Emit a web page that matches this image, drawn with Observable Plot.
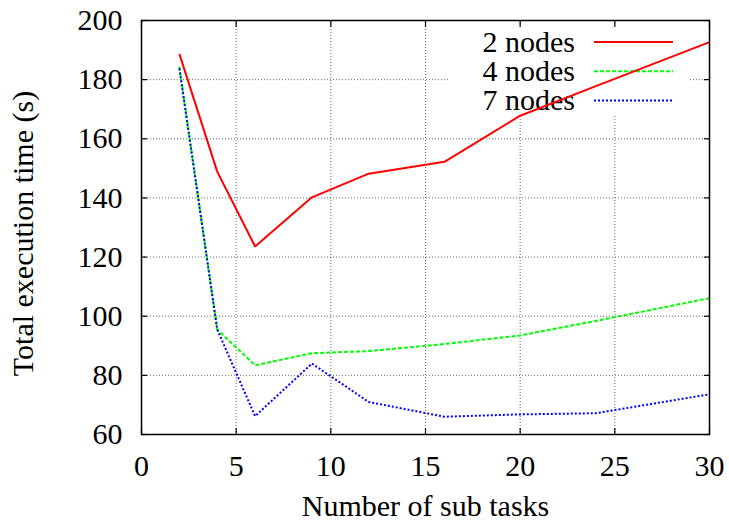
<!DOCTYPE html>
<html><head><meta charset="utf-8">
<script src="https://cdn.jsdelivr.net/npm/d3@7"></script>
<script src="https://cdn.jsdelivr.net/npm/@observablehq/plot@0.6"></script>
<style>body{margin:0;background:#fff} svg text{font-family:"Liberation Serif","Times New Roman",serif !important;}</style>
</head><body><div id="chart"></div>
<script>
const subTasks = [2, 4, 6, 9, 12, 16, 20, 24, 30];
const nodes2 = [188.7, 148.9, 123.6, 140.2, 148.2, 152.2, 167.8, 177.8, 192.7];
const nodes4 = [184.4, 95.5, 83.4, 87.5, 88.2, 90.6, 93.5, 98.4, 106.1];
const nodes7 = [183.8, 95.5, 66.2, 84.0, 71.0, 66.0, 66.8, 67.2, 73.6];
const seriesNames = ["2 nodes", "4 nodes", "7 nodes"];
const seriesValues = [nodes2, nodes4, nodes7];
const seriesColors = ["#ff0000", "#00ff00", "#0000ff"];
const seriesDash = [null, "4,2", "2,2"];
const xTicks = [0, 5, 10, 15, 20, 25, 30];
const yTicks = [60, 80, 100, 120, 140, 160, 180, 200];
const xLabel = "Number of sub tasks";
const yLabel = "Total execution time (s)";

const FONT = 30;
const FAMILY = "Liberation Serif";

const series = seriesNames.map((name, i) => ({
  name, color: seriesColors[i], dash: seriesDash[i],
  rows: subTasks.map((x, j) => ({x, y: seriesValues[i][j]}))
}));

function legend(index, scales, values, dimensions) {
  const right = dimensions.width - dimensions.marginRight;
  const top = dimensions.marginTop;
  const g = d3.create("svg:g");
  g.append("rect").attr("x", right - 261).attr("y", top + 4)
    .attr("width", 242).attr("height", 92).attr("fill", "white");
  series.forEach((s, i) => {
    const y = top + 22 + i * 29.3;
    g.append("text").attr("x", right - 134).attr("y", y).attr("dy", "0.32em")
      .attr("text-anchor", "end").attr("font-size", FONT).attr("font-family", FAMILY)
      .attr("fill", "black").text(s.name);
    g.append("line").attr("x1", right - 115).attr("x2", right - 36)
      .attr("y1", y).attr("y2", y).attr("stroke", s.color).attr("stroke-width", 2)
      .attr("stroke-linecap", "butt").attr("stroke-dasharray", s.dash);
  });
  return g.node();
}

const gridStyle = {stroke: "#000", strokeOpacity: 0.6, strokeDasharray: "1,2", strokeWidth: 1};

const chart = Plot.plot({
  width: 729, height: 521,
  marginLeft: 141, marginRight: 20, marginTop: 20, marginBottom: 87,
  style: "font-family: 'Liberation Serif', serif; font-size: 30px; background: white; color: black;",
  x: {domain: [0, 30]},
  y: {domain: [60, 200]},
  marks: [
    Plot.gridX(xTicks, gridStyle),
    Plot.gridY(yTicks, gridStyle),
    legend,
    ...series.map(s => Plot.line(s.rows, {x: "x", y: "y", stroke: s.color, strokeWidth: 2,
      strokeDasharray: s.dash, strokeLinecap: "butt", strokeLinejoin: "miter"})),
    Plot.axisX({ticks: xTicks, tickSize: 0, tickPadding: 20, label: null, fontSize: FONT, fontFamily: FAMILY}),
    Plot.axisY({ticks: yTicks, tickSize: 0, tickPadding: 19, label: null, fontSize: FONT, fontFamily: FAMILY}),
    Plot.axisX({ticks: xTicks, anchor: "bottom", tickSize: 6, dy: -6, fill: "none", label: null, strokeWidth: 1.2}),
    Plot.axisX({ticks: xTicks, anchor: "top", tickSize: 6, dy: 6, fill: "none", label: null, strokeWidth: 1.2}),
    Plot.axisY({ticks: yTicks, anchor: "left", tickSize: 6, dx: 6, fill: "none", label: null, strokeWidth: 1.2}),
    Plot.axisY({ticks: yTicks, anchor: "right", tickSize: 6, dx: -6, fill: "none", label: null, strokeWidth: 1.2}),
    Plot.frame({stroke: "black", strokeWidth: 1.5}),
    Plot.text([xLabel], {text: d => d, frameAnchor: "bottom", textAnchor: "middle", dy: 72, lineAnchor: "middle", fontSize: FONT, fontFamily: FAMILY, fill: "black"}),
    Plot.text([yLabel], {text: d => d, frameAnchor: "left", textAnchor: "middle", dx: -118.6, dy: 6, rotate: -90, lineAnchor: "middle", fontSize: FONT, fontFamily: FAMILY, fill: "black"})
  ]
});
document.getElementById("chart").appendChild(chart);
</script>
</body></html>
